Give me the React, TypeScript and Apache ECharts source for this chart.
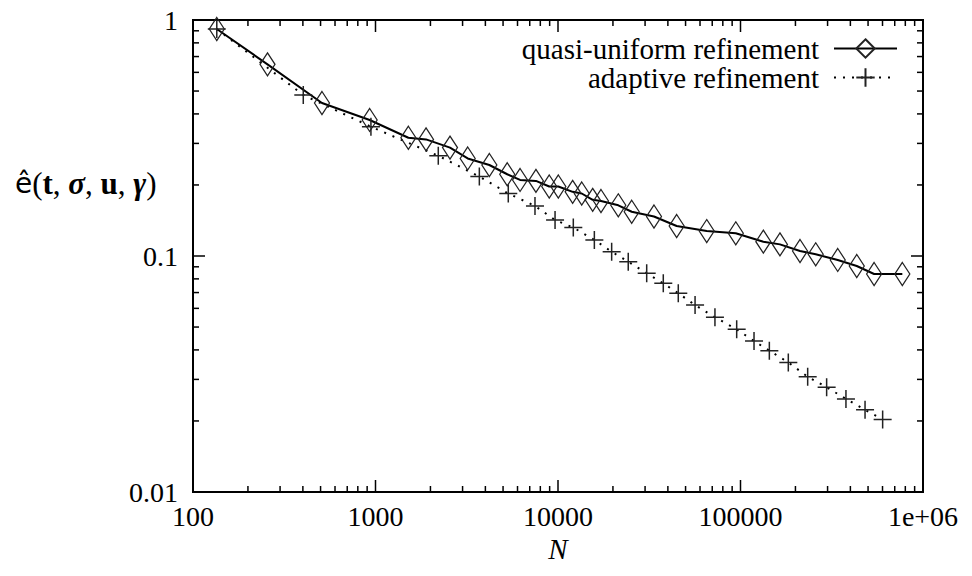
import React, { useEffect, useRef } from "react";
import * as echarts from "echarts";

const uniformN = [135, 256, 509, 929, 1514, 1892, 2560, 3200, 4206, 5270, 6196, 7570, 8955, 10040, 12030, 13490, 15490, 17200, 21400, 25340, 33570, 44690, 65310, 94230, 133400, 164500, 211900, 258300, 341000, 433600, 539600, 770400];
const uniformErr = [0.916, 0.649, 0.445, 0.377, 0.317, 0.312, 0.288, 0.259, 0.243, 0.222, 0.21, 0.208, 0.197, 0.197, 0.187, 0.184, 0.173, 0.171, 0.164, 0.154, 0.147, 0.134, 0.1276, 0.1248, 0.115, 0.112, 0.105, 0.1017, 0.0962, 0.0907, 0.0839, 0.0839];

const adaptiveN = [135, 402, 944, 2208, 3707, 5340, 7480, 9635, 12130, 15820, 19680, 24260, 30620, 37750, 45610, 56370, 72440, 95300, 118600, 143900, 182800, 233400, 296500, 378300, 481300, 601000];
const adaptiveErr = [0.916, 0.481, 0.353, 0.266, 0.217, 0.184, 0.163, 0.142, 0.132, 0.117, 0.1043, 0.0946, 0.0845, 0.0766, 0.0695, 0.062, 0.055, 0.0489, 0.0436, 0.0397, 0.0354, 0.0308, 0.0278, 0.0248, 0.0223, 0.0203];

const xTickLabels = ["100", "1000", "10000", "100000", "1e+06"];
const yTickLabels = ["0.01", "0.1", "1"];

const xMajorTicks = [1000, 10000, 100000];
const xMinorTicks = [200, 300, 400, 500, 600, 700, 800, 900, 2000, 3000, 4000, 5000, 6000, 7000, 8000, 9000, 20000, 30000, 40000, 50000, 60000, 70000, 80000, 90000, 200000, 300000, 400000, 500000, 600000, 700000, 800000, 900000];
const yMajorTicks = [0.1];
const yMinorTicks = [0.02, 0.03, 0.04, 0.05, 0.06, 0.07, 0.08, 0.09, 0.2, 0.3, 0.4, 0.5, 0.6, 0.7, 0.8, 0.9];

const seriesNames = ["quasi-uniform refinement", "adaptive refinement"];

const FONT = "Liberation Serif";
const MAJOR_LEN = 12;
const MINOR_LEN = 6;

export default function App() {
  const ref = useRef<HTMLDivElement>(null);
  useEffect(() => {
    document.body.style.margin = "0";
    if (!ref.current) return;
    const chart = echarts.init(ref.current, null, { renderer: "svg" });

    const xTickData = [
      ...xMajorTicks.map((v) => [v, 0.1, MAJOR_LEN]),
      ...xMinorTicks.map((v) => [v, 0.1, MINOR_LEN]),
    ];
    const yTickData = [
      ...yMajorTicks.map((v) => [1000, v, MAJOR_LEN]),
      ...yMinorTicks.map((v) => [1000, v, MINOR_LEN]),
    ];

    const option: any = {
      animation: false,
      backgroundColor: "#fff",
      textStyle: { fontFamily: FONT, color: "#000" },
      grid: {
        left: 193,
        right: 49,
        top: 20,
        bottom: 84,
        show: true,
        borderColor: "#000",
        borderWidth: 2,
        backgroundColor: "transparent",
      },
      legend: {
        data: seriesNames,
        orient: "vertical",
        align: "right",
        right: 69,
        top: 29,
        itemGap: 0,
        itemWidth: 63,
        itemHeight: 23,
        textStyle: {
          fontFamily: FONT,
          fontSize: 29,
          lineHeight: 28,
          color: "#000",
          padding: [0, 10, 0, 0],
        },
      },
      xAxis: {
        type: "log",
        logBase: 10,
        min: 100,
        max: 1000000,
        name: "N",
        nameLocation: "middle",
        nameGap: 41,
        nameTextStyle: { fontFamily: FONT, fontSize: 29, fontStyle: "italic", color: "#000" },
        axisLine: { show: true, lineStyle: { color: "#000", width: 2 } },
        axisTick: { show: false },
        minorTick: { show: false },
        splitLine: { show: false },
        axisLabel: {
          fontFamily: FONT,
          fontSize: 28,
          color: "#000",
          margin: 10,
          formatter: (v: number) => xTickLabels[Math.round(Math.log10(v)) - 2] ?? "",
        },
      },
      yAxis: {
        type: "log",
        logBase: 10,
        min: 0.01,
        max: 1,
        axisLine: { show: true, lineStyle: { color: "#000", width: 2 } },
        axisTick: { show: false },
        minorTick: { show: false },
        splitLine: { show: false },
        axisLabel: {
          fontFamily: FONT,
          fontSize: 28,
          color: "#000",
          margin: 15,
          formatter: (v: number) => yTickLabels[Math.round(Math.log10(v)) + 2] ?? "",
        },
      },
      graphic: [
        {
          type: "text",
          left: 15,
          top: 168,
          style: {
            text: "{h|ê}{n|(}{b|t}{n|, }{g|σ}{n|, }{b|u}{n|, }{g|γ}{n|)}",
            rich: {
              h: { fontFamily: "DejaVu Sans", fontSize: 28, fill: "#000" },
              n: { fontFamily: FONT, fontSize: 31, fill: "#000" },
              b: { fontFamily: FONT, fontSize: 31, fontWeight: "bold", fill: "#000" },
              g: { fontFamily: FONT, fontSize: 31, fontWeight: "bold", fontStyle: "italic", fill: "#000" },
            },
          },
        },
      ],
      series: [
        {
          name: seriesNames[0],
          type: "line",
          data: uniformN.map((n, i) => [n, uniformErr[i]]),
          symbol: "path://M5,0L10,7.5L5,15L0,7.5Z",
          symbolSize: [15, 23],
          itemStyle: { color: "rgba(0,0,0,0)", borderColor: "#222", borderWidth: 1.3 },
          lineStyle: { color: "#000", width: 2 },
          z: 3,
        },
        {
          name: seriesNames[1],
          type: "line",
          data: adaptiveN.map((n, i) => [n, adaptiveErr[i]]),
          symbol: "path://M0,5L10,5M5,0L5,10",
          symbolSize: 18,
          itemStyle: { color: "rgba(0,0,0,0)", borderColor: "#222", borderWidth: 1.5 },
          lineStyle: { color: "#000", width: 2, type: [2, 7], cap: "butt" },
          z: 3,
        },
        {
          type: "custom",
          name: "xticks",
          silent: true,
          data: xTickData,
          encode: { x: 0, y: 1 },
          renderItem: (params: any, api: any) => {
            const cs = params.coordSys;
            const px = api.coord([api.value(0), api.value(1)])[0];
            const len = api.value(2);
            const bottom = cs.y + cs.height;
            return {
              type: "group",
              children: [
                { type: "line", shape: { x1: px, y1: bottom, x2: px, y2: bottom - len }, style: { stroke: "#000", lineWidth: 1.5 } },
                { type: "line", shape: { x1: px, y1: cs.y, x2: px, y2: cs.y + len }, style: { stroke: "#000", lineWidth: 1.5 } },
              ],
            };
          },
          z: 4,
        },
        {
          type: "custom",
          name: "yticks",
          silent: true,
          data: yTickData,
          encode: { x: 0, y: 1 },
          renderItem: (params: any, api: any) => {
            const cs = params.coordSys;
            const py = api.coord([api.value(0), api.value(1)])[1];
            const len = api.value(2);
            const right = cs.x + cs.width;
            return {
              type: "group",
              children: [
                { type: "line", shape: { x1: cs.x, y1: py, x2: cs.x + len, y2: py }, style: { stroke: "#000", lineWidth: 1.5 } },
                { type: "line", shape: { x1: right, y1: py, x2: right - len, y2: py }, style: { stroke: "#000", lineWidth: 1.5 } },
              ],
            };
          },
          z: 4,
        },
      ],
    };
    chart.setOption(option);
    return () => chart.dispose();
  }, []);
  return <div ref={ref} style={{ width: 972, height: 576 }} />;
}
